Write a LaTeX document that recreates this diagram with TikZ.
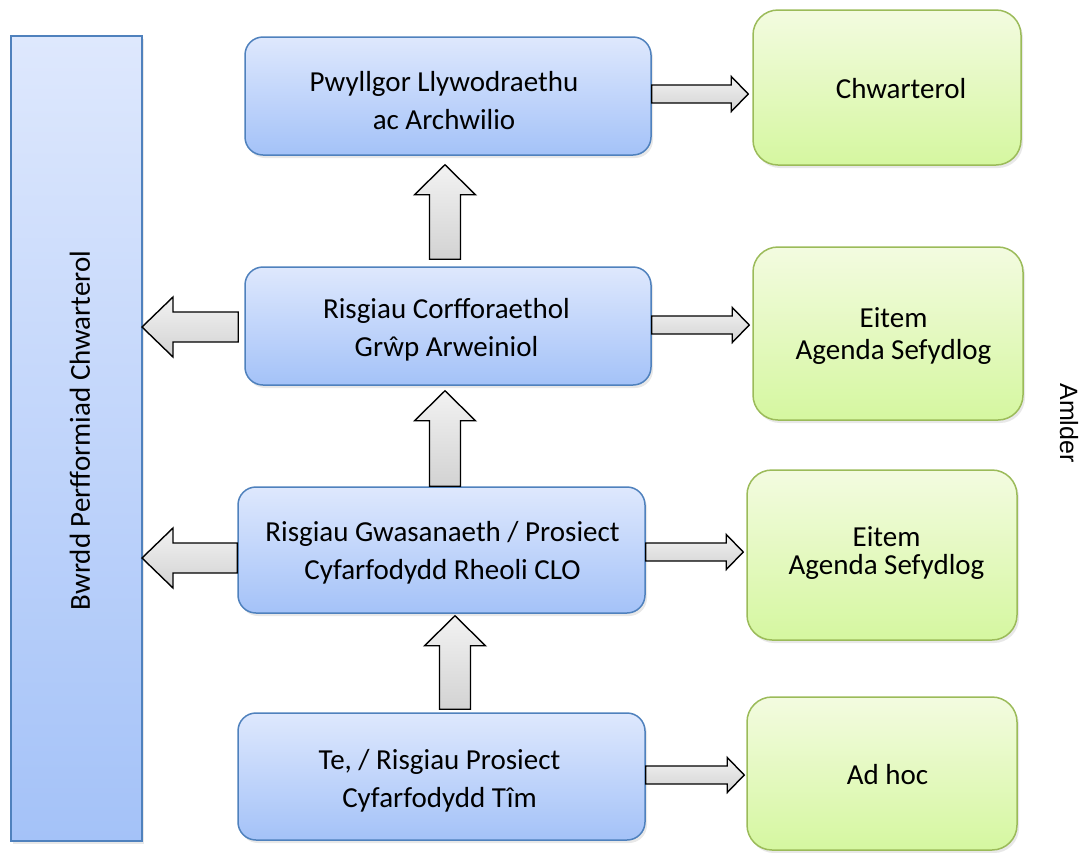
\documentclass[tikz,border=0pt]{standalone}
\usepackage{fontspec}
\setmainfont{Carlito}
\newfontfamily\arialf{Liberation Sans}
\usetikzlibrary{calc,shadows}
\definecolor{bluetop}{HTML}{DEE8FD}
\definecolor{bluebot}{HTML}{A4C2F8}
\definecolor{bluedge}{HTML}{4F81BD}
\definecolor{greentop}{HTML}{F3FBE0}
\definecolor{greenbot}{HTML}{D5F7A0}
\definecolor{greenedge}{HTML}{9BBB59}
\tikzset{
  box/.style={line width=1.5pt, inner sep=0pt,
    drop shadow={opacity=0.18, shadow xshift=2pt, shadow yshift=-3pt}},
  bluebox/.style={box, draw=bluedge, top color=bluetop, bottom color=bluebot, rounded corners=18pt},
  sidebox/.style={box, draw=bluedge, line width=2pt, top color=bluetop, bottom color=bluebot},
  greenbox/.style={box, draw=greenedge, top color=greentop, bottom color=greenbot, rounded corners=25pt},
  bluetext/.style={align=center, inner sep=0pt, font=\fontsize{29}{38}\selectfont},
  greentext/.style={align=center, inner sep=0pt, font=\fontsize{29}{32}\selectfont},
  blk/.style={draw=black, line width=1.4pt, line join=miter, top color=gray!10, bottom color=gray!35},
}
\newcommand\blockarrow[5]{%
  \coordinate (ba-h) at ($(#2)!#5!(#1)$);
  \draw[blk] ($(#1)!#3!90:(#2)$) -- ($(ba-h)!#3!90:(#2)$) -- ($(ba-h)!#4!90:(#2)$) -- (#2)
    -- ($(ba-h)!#4!-90:(#2)$) -- ($(ba-h)!#3!-90:(#2)$) -- ($(#1)!#3!-90:(#2)$) -- cycle;
}
\begin{document}
\begin{tikzpicture}[x=1pt,y=-1pt]
\useasboundingbox (0,0) rectangle (1085,852);
% left tall box
\node[sidebox, minimum width=131pt, minimum height=805pt] (b) at (76.5,438.5) {};
\node[rotate=90, inner sep=0pt, font=\fontsize{29}{29}\selectfont] (bl) at ($(b.center)+(3.5,-8)$) {Bwrdd Perfformiad Chwarterol};
% blue boxes
\node[bluebox, minimum width=406pt, minimum height=118pt] (p1) at (448,96) {};
\node[bluetext] (p1t) at ($(p1.center)+(-4,4.5)$) {Pwyllgor Llywodraethu\\ac Archwilio};
\node[bluebox, minimum width=406pt, minimum height=118pt] (p2) at (448,326) {};
\node[bluetext] (p2t) at ($(p2.center)+(-1.5,3.5)$) {Risgiau Corfforaethol\\Grŵp Arweiniol};
\node[bluebox, minimum width=407pt, minimum height=126pt] (p3) at (441.5,550) {};
\node[bluetext] (p3t) at ($(p3.center)+(1,3)$) {Risgiau Gwasanaeth / Prosiect\\Cyfarfodydd Rheoli CLO};
\node[bluebox, minimum width=407pt, minimum height=127pt] (p4) at (441.5,776.5) {};
\node[bluetext] (p4t) at ($(p4.center)+(-2,4.5)$) {Te, / Risgiau Prosiect\\Cyfarfodydd Tîm};
% green boxes
\node[greenbox, minimum width=268pt, minimum height=155pt] (g1) at (887,87.5) {};
\node[greentext] (g1t) at ($(g1.center)+(14,1.5)$) {Chwarterol};
\node[greenbox, minimum width=270pt, minimum height=173pt] (g2) at (888,333.5) {};
\node[greentext] (g2t) at ($(g2.center)+(5.5,2.5)$) {Eitem\\Agenda Sefydlog};
\node[greenbox, minimum width=270pt, minimum height=170pt] (g3) at (882,555) {};
\node[greentext, font=\fontsize{29}{28}\selectfont] (g3t) at ($(g3.center)+(4.5,-1.5)$) {Eitem\\Agenda Sefydlog};
\node[greenbox, minimum width=270pt, minimum height=153pt] (g4) at (882,773.5) {};
\node[greentext] (g4t) at ($(g4.center)+(5.5,1.5)$) {Ad hoc};
% Amlder
\node[rotate=-90, inner sep=0pt, font=\arialf\fontsize{25}{25}\selectfont] (am) at (1069,423) {Amlder};
% right arrows
\coordinate (r1a) at ($(p1.east)+(0,-2)$);
\coordinate (r1b) at ($(g1.west |- r1a)+(-4,0)$);
\blockarrow{r1a}{r1b}{9pt}{17.5pt}{17pt}
\coordinate (r2a) at ($(p2.east)+(0,-1)$);
\coordinate (r2b) at ($(g2.west |- r2a)+(-3,0)$);
\blockarrow{r2a}{r2b}{9pt}{17.5pt}{17pt}
\coordinate (r3a) at ($(p3.east)+(0,2)$);
\coordinate (r3b) at ($(g3.west |- r3a)+(-3,0)$);
\blockarrow{r3a}{r3b}{9pt}{17.5pt}{17pt}
\coordinate (r4a) at ($(p4.east)+(0,-1.5)$);
\coordinate (r4b) at ($(g4.west |- r4a)+(-2,0)$);
\blockarrow{r4a}{r4b}{9pt}{17.5pt}{17pt}
% left arrows
\coordinate (l1a) at ($(p2.west)+(-6,1)$);
\coordinate (l1b) at ($(b.east |- l1a)+(-1,0)$);
\blockarrow{l1a}{l1b}{15pt}{30pt}{31pt}
\coordinate (l2a) at ($(p3.west)+(0,8)$);
\coordinate (l2b) at ($(b.east |- l2a)+(-1,0)$);
\blockarrow{l2a}{l2b}{15pt}{30pt}{31pt}
% up arrows
\coordinate (u1a) at ($(p2.north)+(-3,-7)$);
\coordinate (u1b) at ($(u1a |- p1.south)+(0,9)$);
\blockarrow{u1a}{u1b}{15.5pt}{30.5pt}{30pt}
\coordinate (u2a) at ($(p3.north)+(3.5,0)$);
\coordinate (u2b) at ($(u2a |- p2.south)+(0,5)$);
\blockarrow{u2a}{u2b}{15.5pt}{30.5pt}{30pt}
\coordinate (u3a) at ($(p4.north)+(13.5,-3)$);
\coordinate (u3b) at ($(u3a |- p3.south)+(0,2)$);
\blockarrow{u3a}{u3b}{15.5pt}{30.5pt}{30pt}
\end{tikzpicture}
\end{document}
